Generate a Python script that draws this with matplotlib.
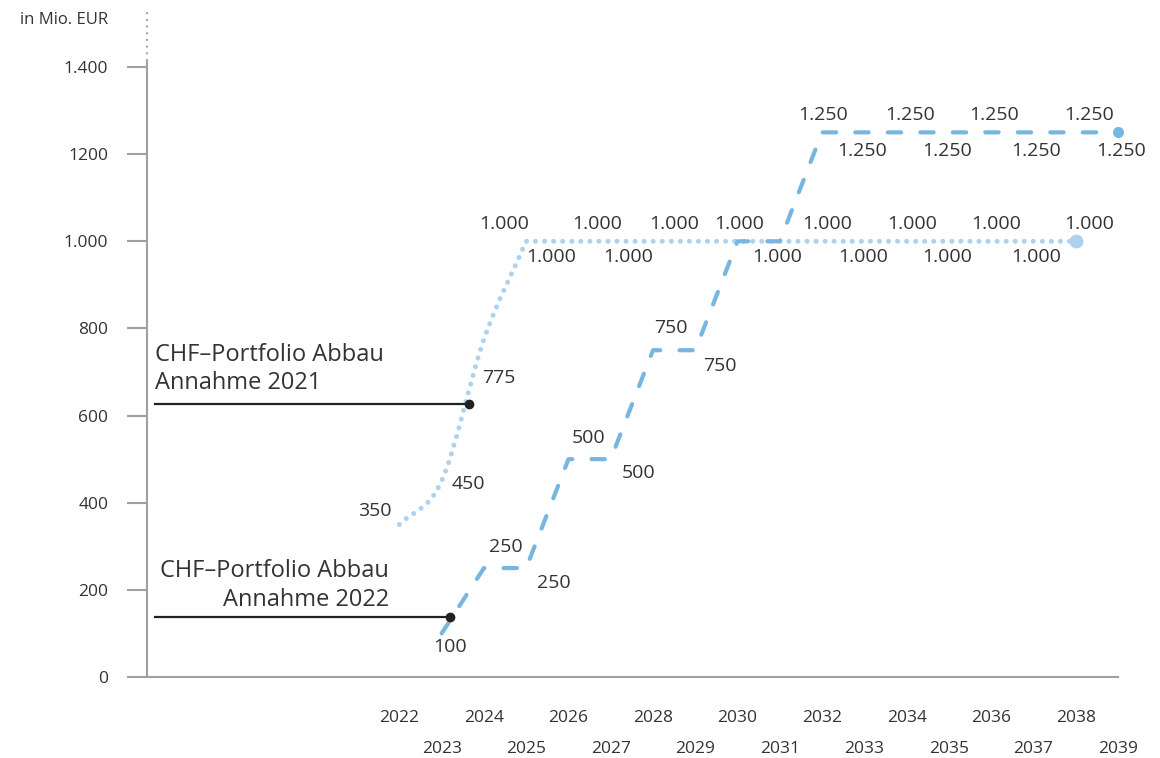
import numpy as np
import matplotlib.pyplot as plt
from matplotlib.path import Path
from matplotlib.patches import PathPatch
from matplotlib.lines import Line2D

plt.rcParams['font.family'] = ['Open Sans', 'DejaVu Sans']

# data
years_2021 = [2022, 2023, 2024, 2025, 2026, 2027, 2028, 2029, 2030, 2031, 2032, 2033, 2034, 2035, 2036, 2037, 2038]
values_2021 = [350, 450, 775, 1000, 1000, 1000, 1000, 1000, 1000, 1000, 1000, 1000, 1000, 1000, 1000, 1000, 1000]
years_2022 = [2023, 2024, 2025, 2026, 2027, 2028, 2029, 2030, 2031, 2032, 2033, 2034, 2035, 2036, 2037, 2038, 2039]
values_2022 = [100, 250, 250, 500, 500, 750, 750, 1000, 1000, 1250, 1250, 1250, 1250, 1250, 1250, 1250, 1250]
x_ticks = list(range(2022, 2040))
y_ticks = [0, 200, 400, 600, 800, 1000, 1200, 1400]
y_ticklabels = ['0', '200', '400', '600', '800', '1.000', '1200', '1.400']
note_2021 = (2023.65, 627, 'CHF–Portfolio Abbau\nAnnahme 2021')
note_2022 = (2023.2, 138, 'CHF–Portfolio Abbau\nAnnahme 2022')

# label offsets in pixels (None = no label)
off_2021 = [(-25, 14), (27, -3), (15, -39), (-22, 17), (-17, -16), (-14, 17), (-25, -16), (-21, 17),
            None, None, (5, 17), (-1, -16), (5, 17), (-2, -16), (5, 17), (3, -16), (13, 17)]
off_2022 = [(8, -14), (22, 21), (28, -15), (20, 21), (28, -14), (18, 22), (25, -16), (2, 17), (-3, -16),
            (1, 17), (-2, -19), (3, 17), (-2, -19), (3, 17), (3, -19), (13, 17), (3, -19)]

c_dash = '#78b6e2'
c_dot = '#acd2ef'
c_text = '#333333'
c_axis = '#a0a0a0'

def fmt(v):
    return '{:,}'.format(v).replace(',', '.')

fig = plt.figure(figsize=(11.6, 7.58), dpi=100)
ax = fig.add_axes([147/1160, 81/758, (1118-147)/1160, 615/758])
ax.set_xlim(2016.03, 2038.93)
ax.set_ylim(0, 1411.5)

# smooth rise of the 2021 curve (Catmull-Rom as bezier), then straight
P = np.column_stack([years_2021, values_2021]).astype(float)
verts = [P[0]]
codes = [Path.MOVETO]
tang = [P[1] - P[0], (P[2] - P[0]) / 2, (P[3] - P[1]) / 2, (P[3] - P[2])]
for i in range(3):
    verts += [P[i] + tang[i] / 3, P[i + 1] - tang[i + 1] / 3, P[i + 1]]
    codes += [Path.CURVE4] * 3
for p in P[4:]:
    verts.append(p)
    codes.append(Path.LINETO)
ax.add_patch(PathPatch(Path(verts, codes), fill=False, edgecolor=c_dot, lw=3.6,
                       linestyle=(0, (0.01, 1.8)), capstyle='round', clip_on=False, zorder=2))
ax.plot(years_2021[-1], values_2021[-1], 'o', color=c_dot, ms=10, mec='none', clip_on=False, zorder=3)

ax.plot(years_2022, values_2022, color=c_dash, lw=3, linestyle=(0, (3.2, 4.6)),
        dash_capstyle='round', clip_on=False, zorder=4)
ax.plot(years_2022[-1], values_2022[-1], 'o', color=c_dash, ms=8, mec='none', clip_on=False, zorder=4)

for yrs, vals, offs in [(years_2021, values_2021, off_2021), (years_2022, values_2022, off_2022)]:
    for x, v, o in zip(yrs, vals, offs):
        if o is None:
            continue
        ax.annotate(fmt(v), (x, v), xytext=o, textcoords='offset pixels', ha='center', va='center',
                    fontsize=14, color=c_text, annotation_clip=False)

# notes
x0 = 2016.21
ax.plot([x0, note_2021[0]], [note_2021[1], note_2021[1]], color='#222222', lw=1.6, zorder=5)
ax.plot(note_2021[0], note_2021[1], 'o', color='#222222', ms=6, zorder=5)
ax.text(x0, 647, note_2021[2], ha='left', va='bottom', fontsize=17, color=c_text, linespacing=1.25)
ax.plot([x0, note_2022[0]], [note_2022[1], note_2022[1]], color='#222222', lw=1.6, zorder=5)
ax.plot(note_2022[0], note_2022[1], 'o', color='#222222', ms=6, zorder=5)
ax.text(2021.76, 150, note_2022[2], ha='right', va='bottom', fontsize=17, color=c_text,
        linespacing=1.28, multialignment='right')

# axes styling
for s in ['top', 'right']:
    ax.spines[s].set_visible(False)
for s in ['left', 'bottom']:
    ax.spines[s].set_color(c_axis)
    ax.spines[s].set_linewidth(1.5)
ax.set_yticks(y_ticks)
ax.set_yticklabels(y_ticklabels)
ax.tick_params(axis='y', length=14.4, width=1.5, color=c_axis, pad=13.5, labelsize=12.5, labelcolor=c_text)
ax.set_xticks([y for y in x_ticks if y % 2 == 0])
ax.set_xticklabels([str(y) for y in x_ticks if y % 2 == 0])
ax.set_xticks([y for y in x_ticks if y % 2 == 1], minor=True)
ax.set_xticklabels([str(y) for y in x_ticks if y % 2 == 1], minor=True)
ax.tick_params(axis='x', which='both', length=0, labelsize=12.5, labelcolor=c_text)
ax.tick_params(axis='x', which='major', pad=24)
ax.tick_params(axis='x', which='minor', pad=46)

ax.add_line(Line2D([0, 0], [1.003, 1.08], transform=ax.transAxes, color='#999999', lw=1.6,
                   linestyle=(0, (0.01, 3)), dash_capstyle='round', clip_on=False))
fig.text(108/1160, 1 - 20/758, 'in Mio. EUR', ha='right', va='center', fontsize=12, color=c_text)

fig.savefig('out.png', dpi=100)
